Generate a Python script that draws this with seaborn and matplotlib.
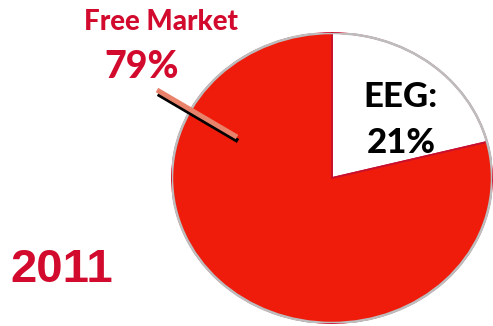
import matplotlib
matplotlib.use("Agg")
import matplotlib.pyplot as plt
from matplotlib.lines import Line2D
from matplotlib.patches import Circle
import seaborn as sns

# Electricity sales split, 2011
segments = ["EEG", "Free Market"]
shares = [21, 79]
year_label = "2011"

sns.set_theme(style="white")
plt.rcParams["font.family"] = ["Lato", "DejaVu Sans"]

slice_colors = ["#FFFFFF", "#EF1C0B"]
text_red = "#D20A2D"
label_weight = 900

W, H = 493, 326
fig = plt.figure(figsize=(W / 100, H / 100), dpi=100)
fig.patch.set_facecolor("white")

# Axes sized so the pie fills a slightly wide ellipse
ax = fig.add_axes([172 / W, 3 / H, 320 / W, 290 / H])
wedges, _ = ax.pie(shares, colors=slice_colors, startangle=90, counterclock=False,
                   radius=1.0, wedgeprops=dict(edgecolor="#C8102E", linewidth=1.3))
ax.add_patch(Circle((0, 0), 1.0, fill=False, edgecolor="#BDBDBD", linewidth=1.8, zorder=5))
ax.set_aspect("auto")
ax.set_xlim(-1, 1)
ax.set_ylim(-1, 1)
ax.axis("off")

# Slice labels
fig.text(401 / W, (H - 97) / H, f"{segments[0]}:", ha="center", va="center",
         fontsize=25, fontweight=label_weight, color="black")
fig.text(401 / W, (H - 143) / H, f"{shares[0]}%", ha="center", va="center",
         fontsize=25, fontweight=label_weight, color="black")
fig.text(161 / W, (H - 22) / H, segments[1], ha="center", va="center",
         fontsize=20, fontweight=label_weight, color=text_red)
fig.text(142 / W, (H - 67) / H, f"{shares[1]}%", ha="center", va="center",
         fontsize=27, fontweight=label_weight, color=text_red)

# Leader line with a dark drop shadow
fig.add_artist(Line2D([158 / W, 238 / W], [(H - 94) / H, (H - 141) / H],
                      color="black", linewidth=3.2, solid_capstyle="butt"))
fig.add_artist(Line2D([157 / W, 237 / W], [(H - 90) / H, (H - 137) / H],
                      color="#E8826A", linewidth=3.6, solid_capstyle="butt"))

fig.text(62 / W, (H - 270) / H, year_label, ha="center", va="center",
         fontsize=34, fontweight="bold", color=text_red,
         family=["Liberation Sans", "DejaVu Sans"])

fig.savefig("out.png", dpi=100, facecolor="white")
